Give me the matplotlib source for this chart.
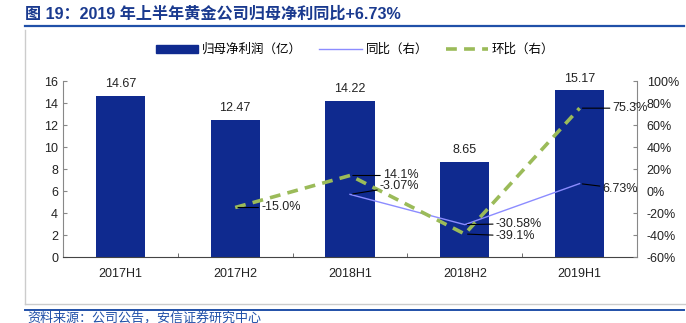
import matplotlib
matplotlib.use("Agg")
import matplotlib.pyplot as plt
from matplotlib.lines import Line2D
from matplotlib.patches import Patch

plt.rcParams['font.family'] = ['Liberation Sans', 'Noto Sans CJK SC']

periods = ["2017H1", "2017H2", "2018H1", "2018H2", "2019H1"]
profit = [14.67, 12.47, 14.22, 8.65, 15.17]            # 归母净利润 (亿)
yoy = [None, None, -3.07, -30.58, 6.73]                 # 同比 (%)
qoq = [None, -15.0, 14.1, -39.1, 75.3]                  # 环比 (%)

BAR = "#0f2a8f"
YOY = "#8c8cff"
QOQ = "#9bbb59"
NAVY = "#1a3a8f"

W, H = 686, 323
fig = plt.figure(figsize=(W / 100, H / 100), dpi=100)

def fx(px): return px / W
def fy(py): return 1 - py / H

ax = fig.add_axes([fx(63), fy(257), fx(637) - fx(63), fy(81) - fy(257)])
ax2 = ax.twinx()

x = list(range(len(periods)))
bars = ax.bar(x, profit, width=0.43, color=BAR, zorder=2)
ax.set_xlim(-0.5, len(periods) - 0.5)
ax.set_ylim(0, 16)
ax.set_yticks(range(0, 17, 2))
ax.set_xticks(x)
ax.set_xticklabels(periods)
ax.set_xticks([i + 0.5 for i in x[:-1]], minor=True)
ax.tick_params(axis="x", which="major", length=0, labelsize=9, pad=8, colors="#222222")
ax.tick_params(axis="x", which="minor", length=3, direction="in", color="#555555")
ax.tick_params(axis="y", length=3, direction="in", labelsize=9, colors="#222222", color="#888888")
for s in ["top", "right"]:
    ax.spines[s].set_visible(False)
ax.spines["left"].set_color("#888888")
ax.spines["bottom"].set_color("#444444")
for b, v in zip(bars, profit):
    ax.annotate(f"{v:.2f}", (b.get_x() + b.get_width() / 2, v), xytext=(0, 4),
                textcoords="offset points", ha="center", va="bottom", fontsize=9, color="#222222")

# right axis: growth rates
ax2.set_ylim(-60, 100)
ax2.set_yticks(range(-60, 101, 20))
ax2.set_yticklabels([f"{t}%" for t in range(-60, 101, 20)])
ax2.tick_params(axis="y", length=3, direction="in", labelsize=9, pad=7,
                colors="#222222", color="#888888")
for s in ["top", "left", "bottom"]:
    ax2.spines[s].set_visible(False)
ax2.spines["right"].set_color("#888888")

yx = [i for i, v in enumerate(yoy) if v is not None]
yv = [v for v in yoy if v is not None]
qx = [i for i, v in enumerate(qoq) if v is not None]
qv = [v for v in qoq if v is not None]
ax2.plot(yx, yv, color=YOY, lw=1.0, zorder=3)
ax2.plot(qx, qv, color=QOQ, lw=2.6, ls=(0, (3, 2)), zorder=4)

# labels with leader lines (offsets in pixels)
labels = [
    (1, qoq[1], "-15.0%", (26, 0)),
    (2, qoq[2], "14.1%", (33, 0)),
    (2, yoy[2], "-3.07%", (30, 8)),
    (3, yoy[3], "-30.58%", (31, 1)),
    (3, qoq[3], "-39.1%", (31, -2)),
    (4, qoq[4], "75.3%", (33, 0)),
    (4, yoy[4], "6.73%", (23, -5)),
]
for xi, v, txt, off in labels:
    ax2.annotate(txt, (xi, v), xytext=off, textcoords="offset pixels",
                 ha="left", va="center", fontsize=9, color="#222222", zorder=6,
                 arrowprops=dict(arrowstyle="-", color="black", lw=0.8,
                                 shrinkA=0, shrinkB=2))

# legend
handles = [Patch(color=BAR), Line2D([], [], color=YOY, lw=1.0),
           Line2D([], [], color=QOQ, lw=2.6, ls=(0, (3, 2)))]
names = ["归母净利润（亿）", "同比（右）", "环比（右）"]
fig.legend(handles, names, loc="center", bbox_to_anchor=(fx(355), fy(50)), ncol=3,
           frameon=False, fontsize=9, handlelength=3.4, handleheight=0.6,
           columnspacing=1.4, handletextpad=0.3)

# title, frame and source
fig.text(fx(25), fy(14), "图 19：2019 年上半年黄金公司归母净利同比+6.73%",
         fontsize=11.6, fontweight="bold", color=NAVY, va="center", ha="left")
fig.add_artist(Line2D([fx(25), fx(684)], [fy(26), fy(26)], color="#2050a8", lw=1.6))
fig.add_artist(Line2D([fx(25), fx(25)], [fy(30), fy(304)], color="#cccccc", lw=1.0))
fig.add_artist(Line2D([fx(25), fx(686)], [fy(304), fy(304)], color="#cccccc", lw=1.0))
fig.add_artist(Line2D([fx(25), fx(684)], [fy(310), fy(310)], color="#2050a8", lw=1.4))
fig.text(fx(27), fy(318), "资料来源：公司公告，安信证券研究中心", fontsize=9.4,
         color="#2050a8", style="italic", va="center", ha="left")

fig.savefig("out.png", dpi=100)
